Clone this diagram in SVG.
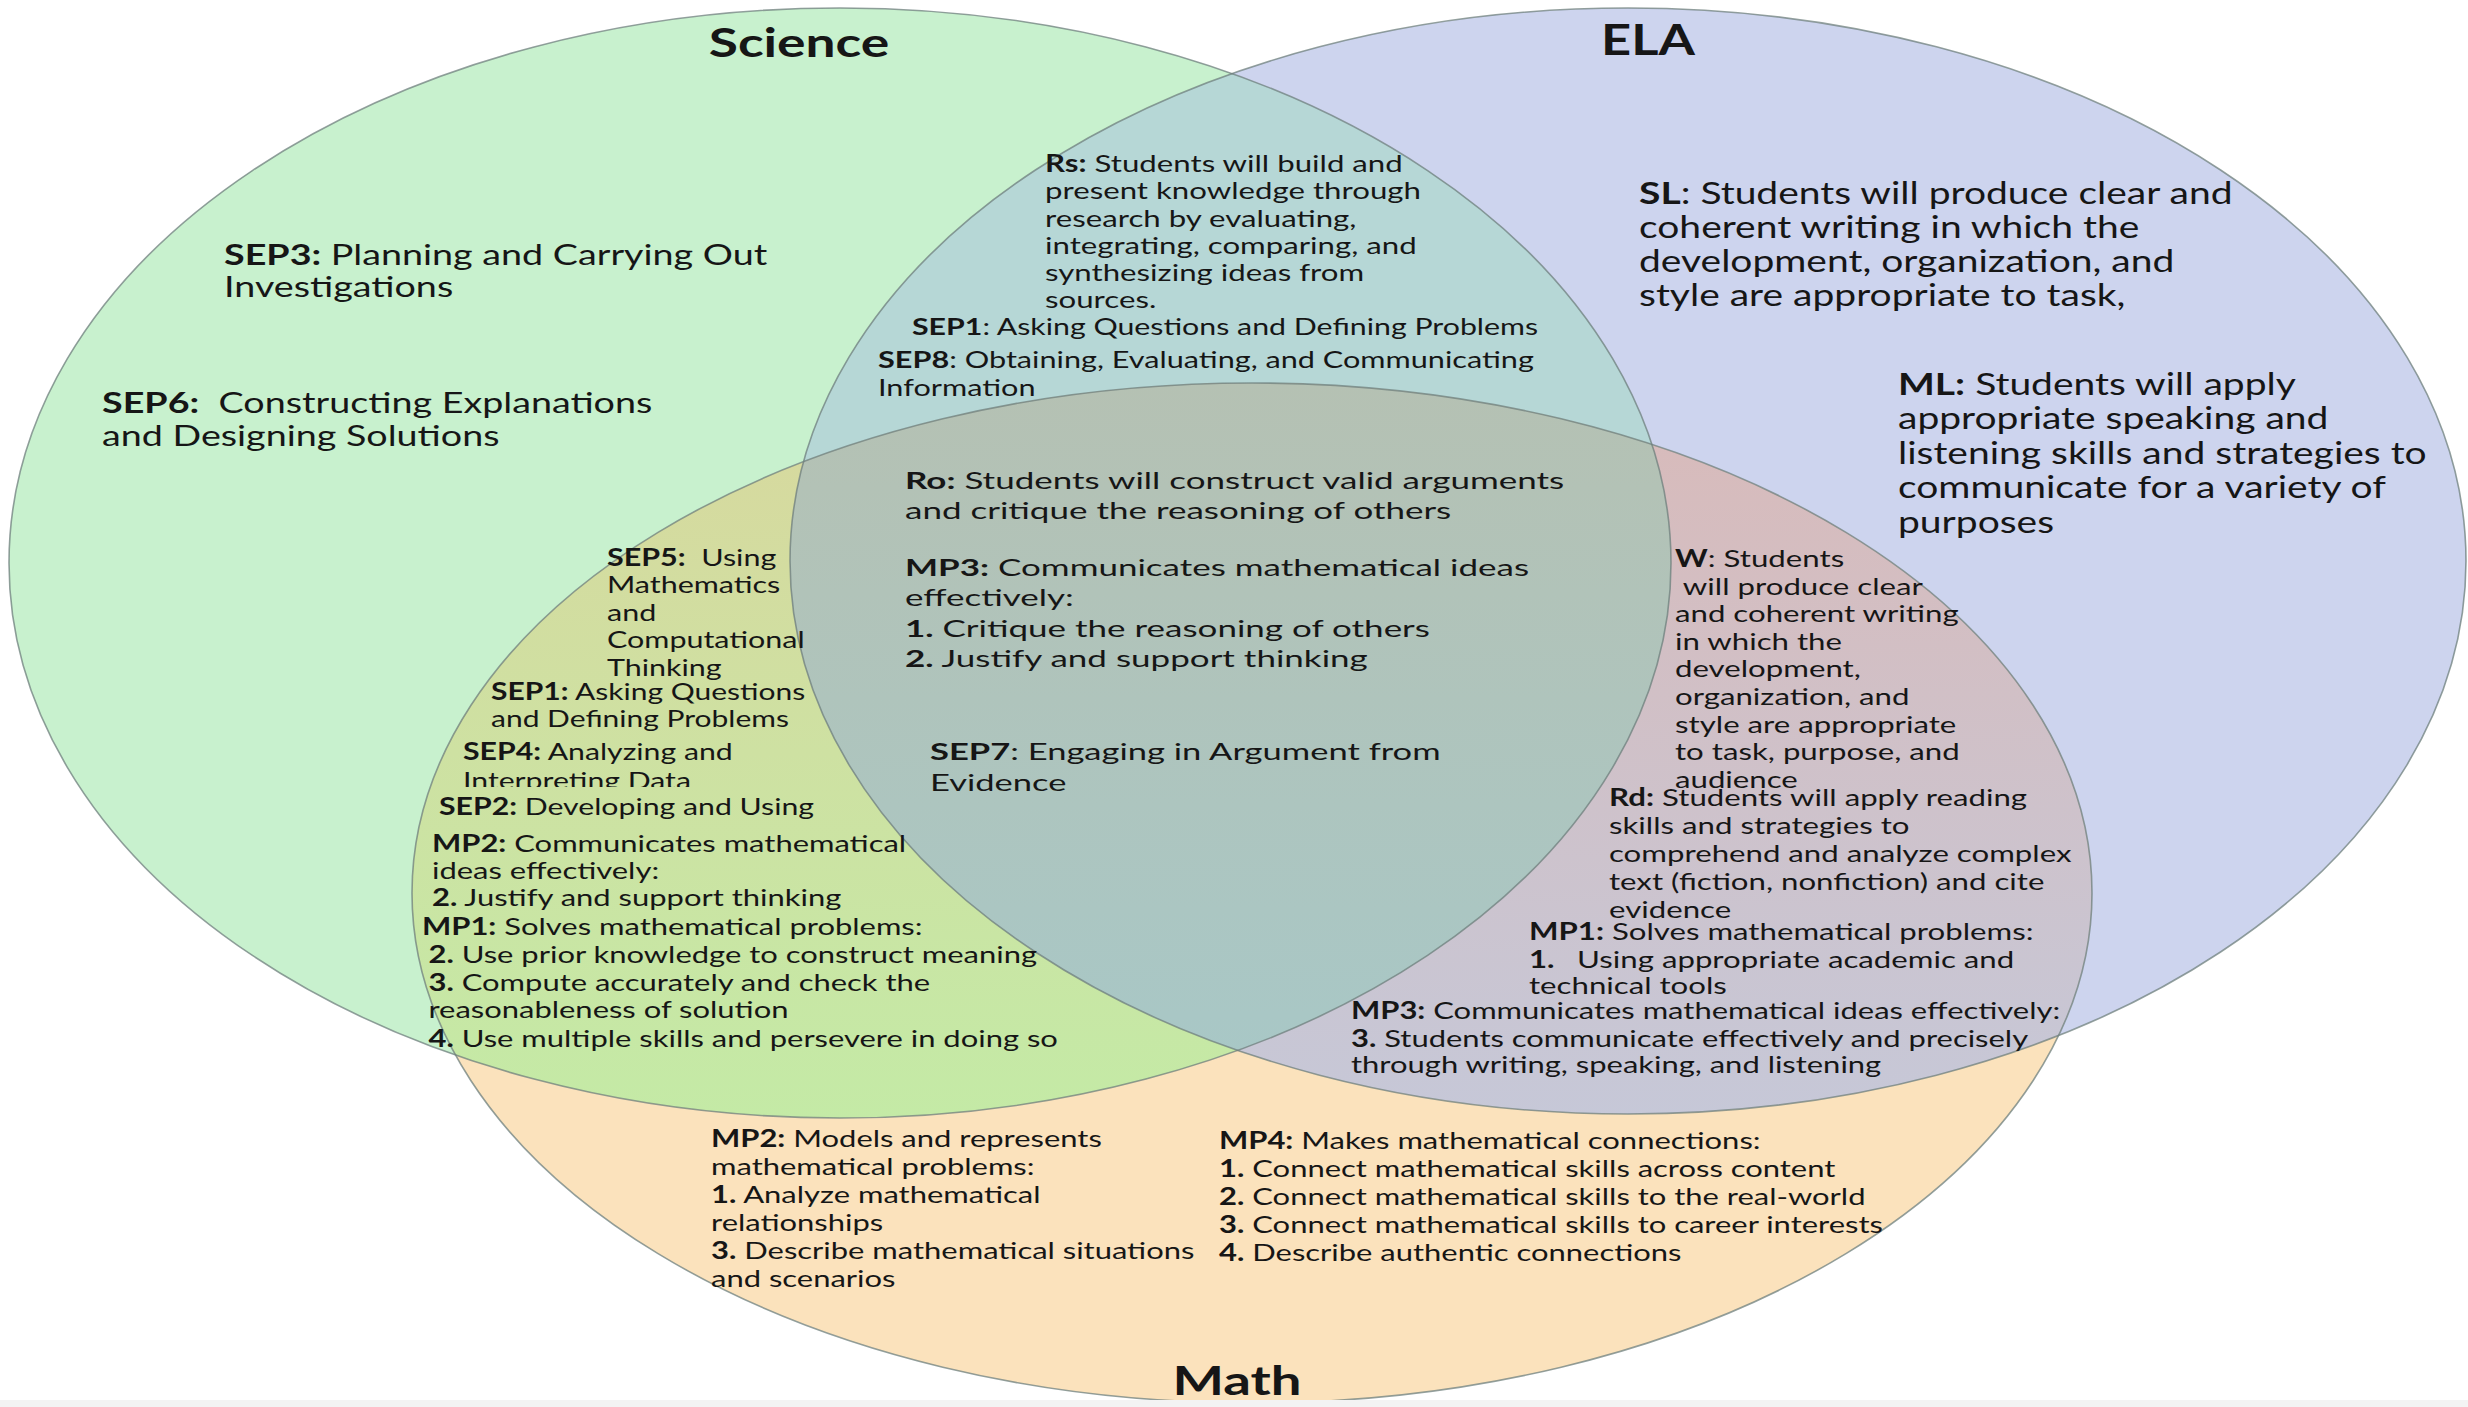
<svg xmlns="http://www.w3.org/2000/svg" width="2468" height="1407" viewBox="0 0 2468 1407">
<defs>
  <style>
    .sci { fill: #c8f1ce; }
    .ela { fill: #cdd4ee; }
    .mat { fill: #fbe2bc; }
    .se { fill: #b6d7d6; }
    .sm { fill: url(#gSM); }
    .em { fill: url(#gEM); }
    .sem { fill: url(#gSEM); }
    .outline { fill: none; stroke: #6e7f7c; stroke-width: 1.6; stroke-opacity: 0.75; }
    text { font-family: Lato, "Liberation Sans", sans-serif; fill: #161616; }
    .t23 { font-size: 23.5px; }
    .t24 { font-size: 24px; }
    .t28 { font-size: 28px; }
    .t30 { font-size: 30px; }
    .title { font-size: 41px; font-weight: 700; text-anchor: middle; }
    .b { font-weight: 700; }
  </style>
  <clipPath id="clipS"><ellipse cx="840" cy="563" rx="831" ry="555"/></clipPath>
  <clipPath id="clipE"><ellipse cx="1628" cy="561" rx="838" ry="553"/></clipPath>
  <clipPath id="clipSep4"><rect x="0" y="0" width="2468" height="787"/></clipPath>
  <linearGradient id="gSM" x1="0" y1="383" x2="0" y2="1120" gradientUnits="userSpaceOnUse">
    <stop offset="0" stop-color="#d8d89e"/><stop offset="1" stop-color="#c4eaa6"/>
  </linearGradient>
  <linearGradient id="gEM" x1="0" y1="383" x2="0" y2="1120" gradientUnits="userSpaceOnUse">
    <stop offset="0" stop-color="#d9bab9"/><stop offset="1" stop-color="#c6c8d8"/>
  </linearGradient>
  <linearGradient id="gSEM" x1="0" y1="383" x2="0" y2="1120" gradientUnits="userSpaceOnUse">
    <stop offset="0" stop-color="#b5c1b3"/><stop offset="1" stop-color="#a7c8c8"/>
  </linearGradient>
</defs>

<rect x="0" y="0" width="2468" height="1407" fill="#ffffff"/>

<!-- three sets with their overlap regions -->
<g id="sets">
  <ellipse id="science-set" class="sci" cx="840" cy="563" rx="831" ry="555"/>
  <ellipse id="ela-set" class="ela" cx="1628" cy="561" rx="838" ry="553"/>
  <ellipse id="math-set" class="mat" cx="1252" cy="893" rx="840" ry="510"/>
  <g clip-path="url(#clipS)"><ellipse class="se" cx="1628" cy="561" rx="838" ry="553"/></g>
  <g clip-path="url(#clipS)"><ellipse class="sm" cx="1252" cy="893" rx="840" ry="510"/></g>
  <g clip-path="url(#clipE)"><ellipse class="em" cx="1252" cy="893" rx="840" ry="510"/></g>
  <g clip-path="url(#clipS)"><g clip-path="url(#clipE)"><ellipse class="sem" cx="1252" cy="893" rx="840" ry="510"/></g></g>
  <ellipse class="outline" cx="840" cy="563" rx="831" ry="555"/>
  <ellipse class="outline" cx="1628" cy="561" rx="838" ry="553"/>
  <ellipse class="outline" cx="1252" cy="893" rx="840" ry="510"/>
</g>
<rect x="0" y="1400" width="2468" height="7" fill="#f3f3f3"/>

<!-- set titles -->
<g id="title-science" transform="translate(799,57) scale(1.3,1)"><text class="title" x="0" y="0">Science</text></g>
<g id="title-ela" transform="translate(1648,55) scale(1.28,1)"><text class="title" x="0" y="0">ELA</text></g>
<g id="title-math" transform="translate(1237,1395) scale(1.33,1)"><text class="title" x="0" y="0">Math</text></g>

<!-- Science only -->
<g id="sep3" transform="translate(224,265) scale(1.346,1)">
  <text class="t28"><tspan x="0" y="0"><tspan class="b">SEP3:</tspan> Planning and Carrying Out</tspan><tspan x="0" y="32">Investigations</tspan></text>
</g>
<g id="sep6" transform="translate(102,413) scale(1.346,1)">
  <text class="t28"><tspan x="0" y="0"><tspan class="b">SEP6:</tspan>&#160; Constructing Explanations</tspan><tspan x="0" y="33">and Designing Solutions</tspan></text>
</g>

<!-- Science and ELA -->
<g id="rs" transform="translate(1045,172) scale(1.3,1)">
  <text class="t24">
    <tspan x="0" y="0"><tspan class="b">Rs:</tspan> Students will build and</tspan>
    <tspan x="0" y="27.3">present knowledge through</tspan>
    <tspan x="0" y="54.6">research by evaluating,</tspan>
    <tspan x="0" y="81.9">integrating, comparing, and</tspan>
    <tspan x="0" y="109.2">synthesizing ideas from</tspan>
    <tspan x="0" y="136.5">sources.</tspan>
  </text>
</g>
<g id="sep1-top" transform="translate(912,335) scale(1.29,1)">
  <text class="t23"><tspan class="b">SEP1</tspan>: Asking Questions and Defining Problems</text>
</g>
<g id="sep8" transform="translate(878,368) scale(1.305,1)">
  <text class="t23"><tspan x="0" y="0"><tspan class="b">SEP8</tspan>: Obtaining, Evaluating, and Communicating</tspan><tspan x="0" y="28">Information</tspan></text>
</g>

<!-- ELA only -->
<g id="sl" transform="translate(1639,204) scale(1.3,1)">
  <text class="t30">
    <tspan x="0" y="0"><tspan class="b">SL</tspan>: Students will produce clear and</tspan>
    <tspan x="0" y="34">coherent writing in which the</tspan>
    <tspan x="0" y="68">development, organization, and</tspan>
    <tspan x="0" y="102">style are appropriate to task,</tspan>
  </text>
</g>
<g id="ml" transform="translate(1898,395) scale(1.3,1)">
  <text class="t30">
    <tspan x="0" y="0"><tspan class="b">ML:</tspan> Students will apply</tspan>
    <tspan x="0" y="34.5">appropriate speaking and</tspan>
    <tspan x="0" y="69">listening skills and strategies to</tspan>
    <tspan x="0" y="103.5">communicate for a variety of</tspan>
    <tspan x="0" y="138">purposes</tspan>
  </text>
</g>

<!-- All three -->
<g id="ro" transform="translate(905,489) scale(1.49,1)">
  <text class="t23">
    <tspan x="0" y="0"><tspan class="b">Ro:</tspan> Students will construct valid arguments</tspan>
    <tspan x="0" y="30">and critique the reasoning of others</tspan>
  </text>
</g>
<g id="mp3-center" transform="translate(905,576) scale(1.49,1)">
  <text class="t23">
    <tspan x="0" y="0"><tspan class="b">MP3:</tspan> Communicates mathematical ideas</tspan>
    <tspan x="0" y="30.5">effectively:</tspan>
    <tspan x="0" y="61"><tspan class="b">1.</tspan> Critique the reasoning of others</tspan>
    <tspan x="0" y="91.5"><tspan class="b">2.</tspan> Justify and support thinking</tspan>
  </text>
</g>
<g id="sep7" transform="translate(930,760) scale(1.47,1)">
  <text class="t23">
    <tspan x="0" y="0"><tspan class="b">SEP7</tspan>: Engaging in Argument from</tspan>
    <tspan x="0" y="31">Evidence</tspan>
  </text>
</g>

<!-- Science and Math -->
<g id="sep5" transform="translate(607,566) scale(1.27,1)">
  <text class="t24">
    <tspan x="0" y="0"><tspan class="b">SEP5:</tspan>&#160; Using</tspan>
    <tspan x="0" y="27.5">Mathematics</tspan>
    <tspan x="0" y="55">and</tspan>
    <tspan x="0" y="82.5">Computational</tspan>
    <tspan x="0" y="110">Thinking</tspan>
  </text>
</g>
<g id="sep1-left" transform="translate(491,700) scale(1.25,1)">
  <text class="t24">
    <tspan x="0" y="0"><tspan class="b">SEP1:</tspan> Asking Questions</tspan>
    <tspan x="0" y="27">and Defining Problems</tspan>
  </text>
</g>
<g id="sep4" clip-path="url(#clipSep4)">
  <g transform="translate(463,760) scale(1.26,1)">
    <text class="t24">
      <tspan x="0" y="0"><tspan class="b">SEP4:</tspan> Analyzing and</tspan>
      <tspan x="0" y="29">Interpreting Data</tspan>
    </text>
  </g>
</g>
<g id="sep2" transform="translate(439,815) scale(1.26,1)">
  <text class="t24"><tspan class="b">SEP2:</tspan> Developing and Using</text>
</g>
<g id="mp2-left" transform="translate(432,852) scale(1.29,1)">
  <text class="t24">
    <tspan x="0" y="0"><tspan class="b">MP2:</tspan> Communicates mathematical</tspan>
    <tspan x="0" y="27">ideas effectively:</tspan>
    <tspan x="0" y="54"><tspan class="b">2.</tspan> Justify and support thinking</tspan>
  </text>
</g>
<g id="mp1-left" transform="translate(422,935) scale(1.29,1)">
  <text class="t24">
    <tspan x="0" y="0"><tspan class="b">MP1:</tspan> Solves mathematical problems:</tspan>
    <tspan x="5" y="28"><tspan class="b">2.</tspan> Use prior knowledge to construct meaning</tspan>
    <tspan x="5" y="56.5"><tspan class="b">3.</tspan> Compute accurately and check the</tspan>
    <tspan x="5" y="83">reasonableness of solution</tspan>
    <tspan x="5" y="112"><tspan class="b">4.</tspan> Use multiple skills and persevere in doing so</tspan>
  </text>
</g>

<!-- ELA and Math -->
<g id="w" transform="translate(1675,567) scale(1.3,1)">
  <text class="t24">
    <tspan x="0" y="0"><tspan class="b">W</tspan>: Students</tspan>
    <tspan x="6" y="27.6">will produce clear</tspan>
    <tspan x="0" y="55.2">and coherent writing</tspan>
    <tspan x="0" y="82.8">in which the</tspan>
    <tspan x="0" y="110.4">development,</tspan>
    <tspan x="0" y="138">organization, and</tspan>
    <tspan x="0" y="165.6">style are appropriate</tspan>
    <tspan x="0" y="193.2">to task, purpose, and</tspan>
    <tspan x="0" y="220.8">audience</tspan>
  </text>
</g>
<g id="rd" transform="translate(1609,806) scale(1.3,1)">
  <text class="t24">
    <tspan x="0" y="0"><tspan class="b">Rd:</tspan> Students will apply reading</tspan>
    <tspan x="0" y="28">skills and strategies to</tspan>
    <tspan x="0" y="56">comprehend and analyze complex</tspan>
    <tspan x="0" y="84">text (fiction, nonfiction) and cite</tspan>
    <tspan x="0" y="112">evidence</tspan>
  </text>
</g>
<g id="mp1-right" transform="translate(1529,940) scale(1.3,1)">
  <text class="t24">
    <tspan x="0" y="0"><tspan class="b">MP1:</tspan> Solves mathematical problems:</tspan>
    <tspan x="0" y="28"><tspan class="b">1.</tspan></tspan><tspan x="37" y="28">Using appropriate academic and</tspan>
    <tspan x="0" y="54">technical tools</tspan>
  </text>
</g>
<g id="mp3-right" transform="translate(1351,1019) scale(1.29,1)">
  <text class="t24">
    <tspan x="0" y="0"><tspan class="b">MP3:</tspan> Communicates mathematical ideas effectively:</tspan>
    <tspan x="0" y="28"><tspan class="b">3.</tspan> Students communicate effectively and precisely</tspan>
    <tspan x="0" y="54">through writing, speaking, and listening</tspan>
  </text>
</g>

<!-- Math only -->
<g id="mp2-bottom" transform="translate(711,1147) scale(1.29,1)">
  <text class="t24">
    <tspan x="0" y="0"><tspan class="b">MP2:</tspan> Models and represents</tspan>
    <tspan x="0" y="28">mathematical problems:</tspan>
    <tspan x="0" y="56"><tspan class="b">1.</tspan> Analyze mathematical</tspan>
    <tspan x="0" y="84">relationships</tspan>
    <tspan x="0" y="112"><tspan class="b">3.</tspan> Describe mathematical situations</tspan>
    <tspan x="0" y="140">and scenarios</tspan>
  </text>
</g>
<g id="mp4" transform="translate(1219,1149) scale(1.29,1)">
  <text class="t24">
    <tspan x="0" y="0"><tspan class="b">MP4:</tspan> Makes mathematical connections:</tspan>
    <tspan x="0" y="28"><tspan class="b">1.</tspan> Connect mathematical skills across content</tspan>
    <tspan x="0" y="56"><tspan class="b">2.</tspan> Connect mathematical skills to the real-world</tspan>
    <tspan x="0" y="84"><tspan class="b">3.</tspan> Connect mathematical skills to career interests</tspan>
    <tspan x="0" y="112"><tspan class="b">4.</tspan> Describe authentic connections</tspan>
  </text>
</g>
</svg>
